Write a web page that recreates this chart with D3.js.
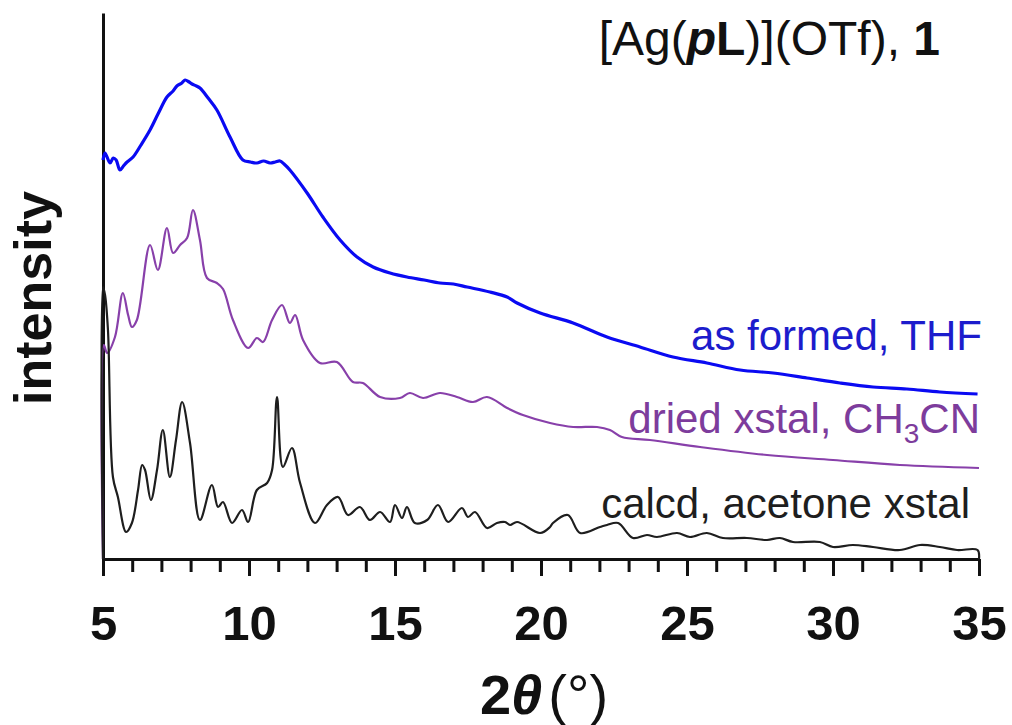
<!DOCTYPE html>
<html>
<head>
<meta charset="utf-8">
<script src="https://cdn.jsdelivr.net/npm/d3@7"></script>
<style>
  html, body { margin: 0; padding: 0; background: #ffffff; }
  svg { display: block; font-family: "Liberation Sans", Arial, sans-serif; }
</style>
</head>
<body>
<svg id="chart" width="1012" height="725"></svg>
<script>
// ---- data (2theta in degrees, intensity in arbitrary units, offset traces) ----
const xTicks = [5, 10, 15, 20, 25, 30, 35];
const xMinorTicks = d3.range(5, 36, 1);

const thfTwoTheta = [5.00, 5.07, 5.24, 5.35, 5.45, 5.58, 5.70, 5.79, 6.03, 6.30, 6.61, 6.90, 7.19, 7.40, 7.53, 7.70, 7.81, 7.95, 8.05, 8.20, 8.32, 8.60, 8.90, 9.35, 9.79, 10.05, 10.27, 10.50, 10.72, 10.90, 11.06, 11.20, 11.40, 11.99, 12.53, 13.12, 13.70, 14.25, 14.83, 15.41, 16.00, 16.54, 17.00, 17.47, 18.25, 18.84, 19.18, 19.97, 21.10, 22.26, 23.39, 24.52, 25.68, 26.82, 27.95, 29.11, 30.24, 31.37, 32.53, 33.66, 34.95];
const thfIntensity = [399, 406, 396, 401, 399, 389, 393, 396, 402, 414, 429, 446, 462, 468, 473, 476, 479, 477, 475, 473, 471, 461, 449, 422, 399, 397, 396, 398, 396, 397, 398, 395, 389, 366, 342, 319, 302, 292, 286, 282, 279, 276, 275, 272, 267, 262, 256, 246, 236, 222, 212, 202, 196, 189, 186, 181, 176, 172, 170, 167, 165];

const ch3cnTwoTheta = [5.00, 5.03, 5.14, 5.41, 5.68, 5.86, 5.99, 6.16, 6.61, 6.88, 7.19, 7.40, 7.64, 7.88, 8.08, 8.32, 8.56, 8.90, 9.11, 9.45, 9.97, 10.27, 10.48, 10.79, 11.13, 11.40, 11.58, 11.85, 12.43, 13.01, 13.56, 13.90, 14.49, 15.17, 15.51, 15.96, 16.54, 17.12, 17.67, 18.15, 18.84, 19.38, 20.31, 21.10, 21.92, 22.36, 22.77, 23.73, 25.45, 27.74, 30.00, 32.29, 35.00];
const ch3cnIntensity = [0, 214, 206, 222, 266, 244, 232, 239, 314, 289, 331, 306, 314, 321, 349, 319, 281, 276, 270, 239, 211, 221, 217, 239, 254, 236, 244, 219, 196, 197, 177, 176, 162, 161, 166, 161, 166, 162, 157, 162, 151, 144, 136, 132, 132, 129, 122, 119, 112, 104, 99, 94, 91];

const calcdTwoTheta = [5.00, 5.00, 5.07, 5.17, 5.34, 5.51, 5.79, 5.99, 6.20, 6.34, 6.44, 6.64, 6.85, 7.05, 7.29, 7.50, 7.71, 7.98, 8.32, 8.73, 8.94, 9.11, 9.42, 9.76, 9.97, 10.27, 10.62, 10.79, 10.96, 11.16, 11.47, 11.75, 12.26, 12.67, 13.05, 13.39, 13.80, 14.14, 14.49, 14.83, 15.00, 15.24, 15.41, 15.68, 16.10, 16.47, 16.82, 17.29, 17.50, 17.74, 18.15, 18.49, 18.77, 18.94, 19.18, 19.97, 20.31, 20.41, 20.92, 21.34, 22.02, 22.26, 22.64, 23.15, 23.63, 23.97, 24.66, 25.10, 25.68, 26.23, 27.05, 27.74, 28.18, 28.63, 29.55, 30.00, 30.68, 31.37, 32.29, 32.98, 33.66, 34.25, 34.95, 35.00];
const calcdIntensity = [0, 272, 264, 229, 82, 62, 27, 36, 69, 94, 89, 59, 89, 129, 82, 119, 157, 116, 39, 74, 52, 57, 36, 49, 37, 69, 76, 89, 162, 92, 111, 76, 36, 54, 62, 44, 52, 39, 47, 37, 54, 41, 52, 36, 39, 54, 37, 51, 42, 47, 31, 36, 37, 34, 37, 26, 32, 36, 44, 26, 32, 34, 36, 21, 24, 22, 26, 22, 26, 21, 21, 19, 21, 17, 17, 12, 14, 12, 9, 14, 12, 9, 9, 0];

const seriesNames = ["as formed, THF", "dried xstal, CH3CN", "calcd, acetone xstal"];

// ---- layout ----
const svg = d3.select("#chart");
const x = d3.scaleLinear().domain([5, 35]).range([103, 979]);
const y = d3.scaleLinear().domain([0, 546]).range([559, 13]);

const toPts = (xs, ys) => xs.map((d, i) => [d, ys[i]]);
const line = d3.line().x(d => x(d[0])).y(d => y(d[1])).curve(d3.curveCatmullRom.alpha(0.5));

// axes
const gMinor = svg.append("g").attr("transform", `translate(0,${y(0)})`)
  .call(d3.axisBottom(x).tickValues(xMinorTicks).tickSize(13).tickFormat("").tickSizeOuter(0));
const gMajor = svg.append("g").attr("transform", `translate(0,${y(0)})`)
  .call(d3.axisBottom(x).tickValues(xTicks).tickSize(17).tickPadding(29).tickSizeOuter(0).tickFormat(d3.format("d")));
[gMinor, gMajor].forEach(g => {
  g.select(".domain").attr("stroke", "#111").attr("stroke-width", 3);
  g.selectAll(".tick line").attr("stroke", "#111").attr("stroke-width", 3);
});
gMajor.selectAll(".tick text")
  .attr("fill", "#111")
  .style("font-family", "'Liberation Sans', Arial, sans-serif")
  .style("font-size", "49px").style("font-weight", "bold");

svg.append("g").attr("transform", `translate(${x(5)},0)`)
  .call(d3.axisLeft(y).tickValues([]).tickSizeOuter(0))
  .select(".domain").attr("stroke", "#111").attr("stroke-width", 3);

// traces
svg.append("path").datum(toPts(thfTwoTheta, thfIntensity))
  .attr("d", line).attr("fill", "none").attr("stroke", "#0a0af2").attr("stroke-width", 3.2)
  .attr("stroke-linejoin", "round");
svg.append("path").datum(toPts(ch3cnTwoTheta, ch3cnIntensity))
  .attr("d", line).attr("fill", "none").attr("stroke", "#8840aa").attr("stroke-width", 2.2)
  .attr("stroke-linejoin", "round");
svg.append("path").datum(toPts(calcdTwoTheta, calcdIntensity))
  .attr("d", line).attr("fill", "none").attr("stroke", "#1e1e1e").attr("stroke-width", 2.2)
  .attr("stroke-linejoin", "round");

// series labels
const lab = svg.append("g").style("font-size", "42px");
lab.append("text").attr("x", 982).attr("y", 350).attr("text-anchor", "end")
  .attr("fill", "#1c1ccc").text(seriesNames[0]);
const t2 = lab.append("text").attr("x", 980).attr("y", 433).attr("text-anchor", "end").attr("fill", "#7d3c9c");
t2.append("tspan").text("dried xstal, CH");
t2.append("tspan").attr("dy", 10).style("font-size", "28px").text("3");
t2.append("tspan").attr("dy", -10).text("CN");
lab.append("text").attr("x", 970).attr("y", 518).attr("text-anchor", "end")
  .attr("fill", "#1e1e1e").text(seriesNames[2]);

// title
const title = svg.append("text").attr("x", 940).attr("y", 55).attr("text-anchor", "end")
  .attr("fill", "#111").style("font-size", "48px");
title.append("tspan").text("[Ag(");
title.append("tspan").style("font-weight", "bold").style("font-style", "italic").text("p");
title.append("tspan").style("font-weight", "bold").text("L");
title.append("tspan").text(")](OTf), ");
title.append("tspan").style("font-weight", "bold").text("1");

// axis titles
const xt = svg.append("text").attr("x", 544).attr("y", 714).attr("text-anchor", "middle")
  .attr("fill", "#111").style("font-size", "56px");
xt.append("tspan").style("font-weight", "bold").text("2");
xt.append("tspan").style("font-weight", "bold").style("font-style", "italic").text("θ");
xt.append("tspan").attr("dx", 6).text("(°)");

svg.append("text").attr("transform", "translate(51,298) rotate(-90)")
  .attr("text-anchor", "middle").attr("fill", "#111")
  .style("font-size", "52px").style("font-weight", "bold").text("intensity");
</script>
</body>
</html>
